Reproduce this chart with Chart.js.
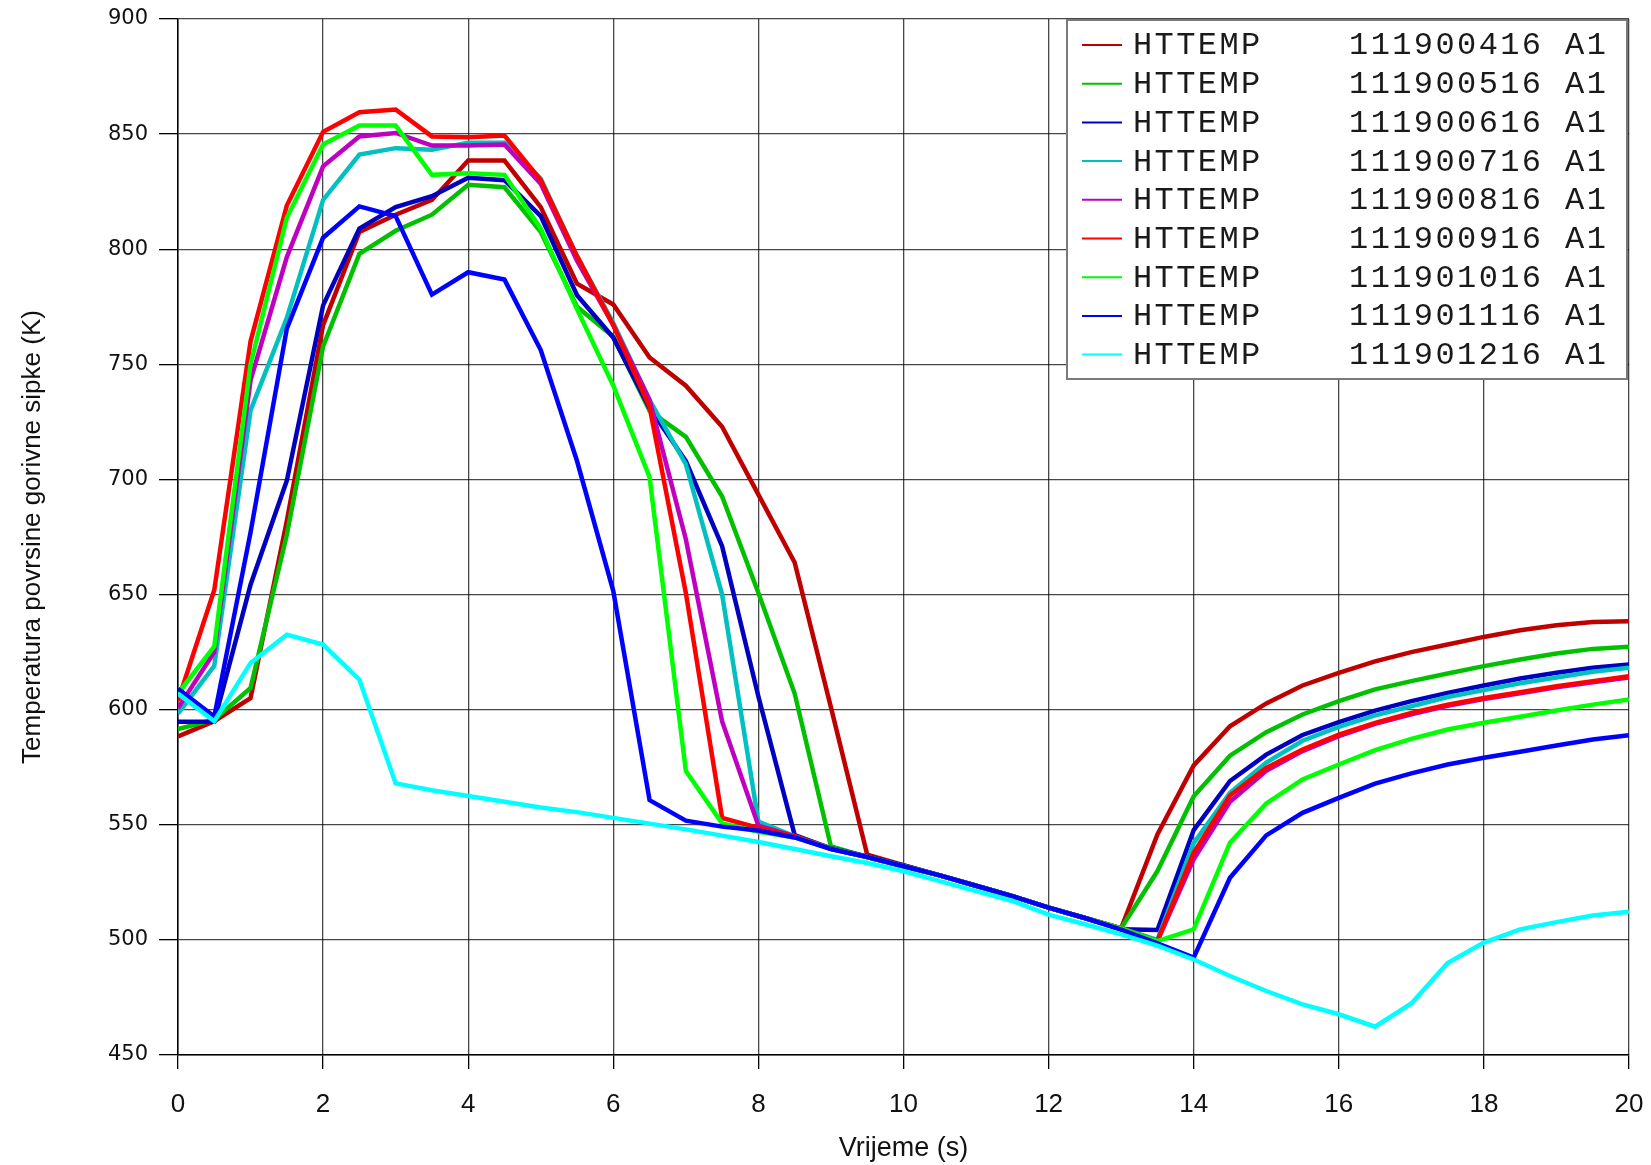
<!DOCTYPE html>
<html lang="hr">
<head>
  <meta charset="UTF-8" />
  <title>HTTEMP - temperatura povrsine gorivne sipke</title>
  <script src="https://cdn.jsdelivr.net/npm/chart.js"></script>
  <style>
    html, body { margin: 0; padding: 0; background: #ffffff; }
    .chart-box { width: 1651px; height: 1165px; position: relative; }
  </style>
</head>
<body>
  <div class="chart-box">
    <canvas id="tempChart"></canvas>
  </div>

  <script>
    // time axis (s), one sample every 0.5 s
    const times = [0, 0.5, 1, 1.5, 2, 2.5, 3, 3.5, 4, 4.5, 5, 5.5, 6, 6.5, 7, 7.5, 8, 8.5, 9, 9.5,
                   10, 10.5, 11, 11.5, 12, 12.5, 13, 13.5, 14, 14.5, 15, 15.5, 16, 16.5, 17, 17.5,
                   18, 18.5, 19, 19.5, 20];

    const seriesNames = [
      'HTTEMP    111900416 A1',
      'HTTEMP    111900516 A1',
      'HTTEMP    111900616 A1',
      'HTTEMP    111900716 A1',
      'HTTEMP    111900816 A1',
      'HTTEMP    111900916 A1',
      'HTTEMP    111901016 A1',
      'HTTEMP    111901116 A1',
      'HTTEMP    111901216 A1'
    ];
    const seriesColors = ['#c00000', '#00c000', '#0000c0', '#00c0c0', '#c000c0',
                          '#ff0000', '#00ff00', '#0000ff', '#00ffff'];

    // surface temperature (K)
    const ht416 = [588.4, 595, 605, 682, 767, 807.5, 815, 821.4, 838.5, 838.5, 818.3, 785, 776, 753, 740.7,
                   722.9, 693.4, 663.9, 601, 537, 532.5, 528, 523.5, 519, 514, 509.5, 505, 545.8, 575.8,
                   592.8, 602.7, 610.5, 616, 621, 625, 628.3, 631.6, 634.5, 636.7, 638.1, 638.4];
    const ht516 = [591.6, 595.6, 609.4, 676, 757.8, 798, 808, 815, 828, 826.9, 807.5, 775, 762, 729.8, 718.5,
                   692.6, 650.7, 607, 540.6, 536, 532.3, 528, 523.5, 519, 514, 509.5, 505, 529.9, 562.4,
                   580, 590.2, 597.9, 603.7, 608.8, 612.4, 615.7, 618.9, 621.8, 624.4, 626.4, 627.3];
    const ht616 = [594.8, 594.8, 654.3, 699.5, 775.6, 809, 818.3, 823, 831, 830, 814.4, 780, 761.6, 731, 708,
                   671, 605.7, 545.5, 539.8, 536.2, 532.3, 528, 523.5, 519, 514, 509.5, 504.6, 504.3, 547.7,
                   569, 580.5, 589, 594.6, 599.6, 603.7, 607.3, 610.5, 613.5, 616, 618.2, 619.6];
    const ht716 = [598.3, 619, 730, 770.2, 821.4, 841.1, 843.9, 843.2, 846.3, 846.3, 830.7, 797, 768, 734.5, 706.6,
                   650, 551.4, 545, 539.6, 536, 532, 528, 523.5, 519, 514, 509.5, 505, 500, 542,
                   563.9, 577, 586.5, 592.5, 597.5, 601.5, 605.5, 608.5, 611.5, 614, 616.5, 618.2];
    const ht816 = [600.7, 625, 743, 796.6, 836, 849, 850.5, 845, 845, 845.5, 828.4, 795, 767, 734.5, 674,
                   594.9, 549.6, 545, 539.6, 536, 532, 528, 523.5, 519, 514, 509.5, 505, 499.5, 535,
                   560, 573.5, 582, 588.5, 593.8, 598, 601.7, 604.6, 607.1, 609.7, 611.9, 614];
    const ht916 = [603.9, 652, 760, 819, 851, 859.5, 860.7, 849, 848.6, 849.4, 830, 797, 767, 731.4, 650.7,
                   553, 548.6, 545, 539.6, 536, 532, 528, 523.5, 519, 514, 509.5, 505, 499.5, 537.8,
                   562.7, 574.7, 582.7, 589.2, 594.3, 598.6, 602.2, 605.1, 607.6, 610.2, 612.4, 614.5];
    const ht1016 = [607, 627.5, 750, 813.7, 845.5, 853.7, 853.7, 832.3, 833, 832.3, 809, 774, 740.7, 701, 573.4,
                    550.6, 547, 544.5, 539.6, 536, 532, 528, 523.5, 519, 514, 509.5, 505, 499.5, 504.6,
                    542.2, 559.3, 569.7, 576.2, 582.4, 587.3, 591.4, 594.3, 596.9, 599.6, 602.2, 604.4];
    const ht1116 = [609.1, 597, 677, 765.5, 805, 818.6, 814.4, 780.3, 790, 786.8, 756.2, 708, 651.5, 560.7, 551.8,
                    549.2, 547.5, 544.5, 539.5, 536, 532, 528, 523.5, 519, 514, 509.5, 504.5, 498.5, 492.3,
                    527, 545.4, 555.2, 561.7, 567.9, 572.3, 576.2, 579.1, 581.7, 584.4, 587, 588.9];
    const ht1216 = [607, 595, 620.3, 632.6, 628.3, 613, 568, 565, 562.5, 560, 557.5, 555.5, 553, 550.5, 548,
                    545.3, 542.5, 539.5, 536.3, 533.4, 529.8, 525.5, 521.2, 516.9, 511, 506.8, 502.4, 497.5, 491.5,
                    484.3, 477.8, 472, 467.7, 462.3, 472.4, 490, 498.8, 504.6, 507.7, 510.6, 512.2];

    const allSeries = [ht416, ht516, ht616, ht716, ht816, ht916, ht1016, ht1116, ht1216];

    const yTicks = [450, 500, 550, 600, 650, 700, 750, 800, 850, 900];
    const xTicks = [0, 2, 4, 6, 8, 10, 12, 14, 16, 18, 20];

    const datasets = allSeries.map((vals, i) => ({
      label: seriesNames[i],
      data: vals.map((v, k) => ({ x: times[k], y: v })),
      borderColor: seriesColors[i],
      backgroundColor: seriesColors[i],
      borderWidth: 4.5,
      pointRadius: 0,
      tension: 0,
      fill: false,
      order: allSeries.length - i   // later series drawn on top
    }));

    // legend box drawn inside the plot, top right
    const boxLegend = {
      id: 'boxLegend',
      afterDraw(chart) {
        const ctx = chart.ctx;
        const x0 = 1067, y0 = 20, w = 560, h = 359;
        ctx.save();
        ctx.fillStyle = '#ffffff';
        ctx.fillRect(x0, y0, w, h);
        ctx.strokeStyle = '#7a7a7a';
        ctx.lineWidth = 2;
        ctx.strokeRect(x0, y0, w, h);
        ctx.font = '32px "Liberation Mono", "DejaVu Sans Mono", monospace';
        ctx.letterSpacing = '2.4px';
        ctx.textBaseline = 'middle';
        ctx.fillStyle = '#1a1a1a';
        chart.data.datasets.forEach((ds, i) => {
          const y = y0 + 25 + i * 38.7;
          ctx.strokeStyle = ds.borderColor;
          ctx.lineWidth = 2;
          ctx.beginPath();
          ctx.moveTo(x0 + 15, y);
          ctx.lineTo(x0 + 55, y);
          ctx.stroke();
          ctx.fillText(ds.label, x0 + 66, y + 1);
        });
        ctx.restore();
      }
    };

    const gridColor = 'rgba(0,0,0,0.72)';

    new Chart(document.getElementById('tempChart'), {
      type: 'line',
      data: { datasets },
      options: {
        responsive: true,
        maintainAspectRatio: false,
        animation: false,
        layout: { padding: { top: 19, right: 22, left: 0, bottom: 0 } },
        plugins: {
          legend: { display: false },
          tooltip: { enabled: false }
        },
        scales: {
          x: {
            type: 'linear',
            min: 0,
            max: 20,
            afterFit: (scale) => {
              scale.height = 110;
              scale.paddingLeft = 0;
              scale.paddingRight = 0;
            },
            afterBuildTicks: (scale) => { scale.ticks = xTicks.map(v => ({ value: v })); },
            grid: { color: gridColor, lineWidth: 1.3, tickLength: 14, tickColor: '#000' },
            border: { color: '#000', width: 1.5 },
            ticks: {
              color: '#111',
              padding: 20,
              maxRotation: 0,
              font: { family: '"Liberation Sans Narrow", "Liberation Sans", Arial, sans-serif', size: 26 }
            },
            title: {
              display: true,
              text: 'Vrijeme (s)',
              color: '#111',
              padding: { top: 0, bottom: 0 },
              font: { family: '"Liberation Sans", Arial, sans-serif', size: 27 }
            }
          },
          y: {
            min: 450,
            max: 900,
            afterFit: (scale) => {
              scale.width = 178;
              scale.paddingTop = 0;
              scale.paddingBottom = 0;
            },
            afterBuildTicks: (scale) => { scale.ticks = yTicks.map(v => ({ value: v })); },
            grid: { color: gridColor, lineWidth: 1.3, tickLength: 19, tickColor: '#000' },
            border: { color: '#000', width: 1.5 },
            ticks: {
              color: '#111',
              padding: 11,
              font: { family: '"DejaVu Sans", sans-serif', size: 21 }
            },
            title: {
              display: true,
              text: 'Temperatura povrsine gorivne sipke (K)',
              color: '#111',
              padding: { top: 17, bottom: 17 },
              font: { family: '"Liberation Sans", Arial, sans-serif', size: 26 }
            }
          }
        }
      },
      plugins: [boxLegend]
    });
  </script>
</body>
</html>
